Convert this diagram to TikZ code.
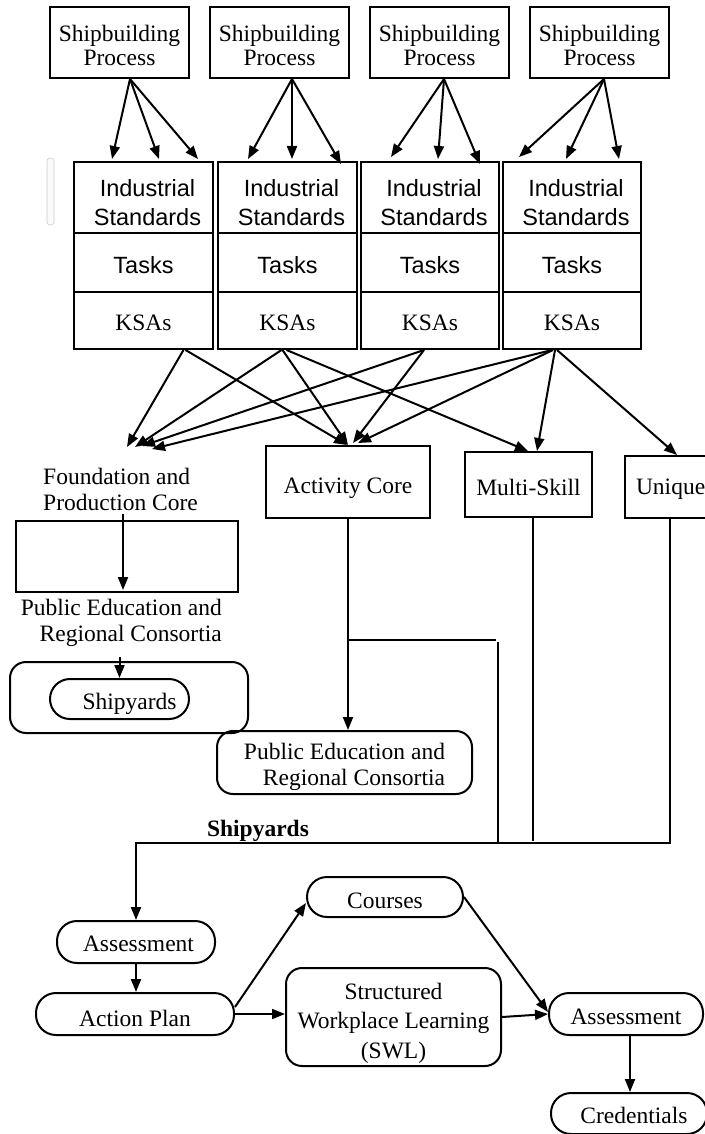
\documentclass[tikz,border=0pt]{standalone}
\usepackage{fontspec}
\setmainfont{Liberation Serif}
\newfontfamily\sansf{Liberation Sans}
\usetikzlibrary{arrows.meta,calc}
\newcommand{\lowr}[2]{\raisebox{-#1pt}[\height][\depth]{#2}}
\begin{document}
\begin{tikzpicture}[x=1pt,y=-1pt,
  every node/.style={font=\fontsize{23.5}{24}\selectfont, inner sep=0pt},
  bx/.style={draw, line width=2pt, align=center},
  rbx/.style={bx, rounded corners=16pt},
  pill/.style={bx, rounded corners=20pt},
  sanstxt/.style={align=center, font=\sansf\fontsize{23.5}{29}\selectfont},
  arr/.style={line width=2pt, -{Triangle[length=13pt,width=10pt]}},
  ln/.style={line width=2pt}]
\useasboundingbox (0,0) rectangle (704,1134);

% faint artefact
\node[draw=gray!40, fill=gray!4, line width=0.6pt, rounded corners=3pt, minimum width=7pt, minimum height=67pt] (ghost) at (50.5,191.5) {};

% top boxes
\foreach \i/\cx in {1/119.5, 2/279.5, 3/439.5, 4/599.5}{
  \node[bx, minimum width=139pt, minimum height=71pt,
        label={[align=center, yshift=-3pt]center:{Shipbuilding\\Process}}] (sp\i) at (\cx,42.5) {};
}

% columns
\foreach \i/\cx/\w in {1/143.5/139, 2/287.5/139, 3/430/138, 4/572/138}{
  \node[bx, minimum width=\w pt, minimum height=71pt,
        label={[sanstxt, xshift=4pt, yshift=-5pt]center:{Industrial\\Standards}}] (is\i) at (\cx,197.5) {};
  \node[bx, font=\sansf\fontsize{23.5}{29}\selectfont, minimum width=\w pt, minimum height=59pt] (tk\i) at (\cx,262.5) {\lowr{3}{Tasks}};
  \node[bx, minimum width=\w pt, minimum height=57pt] (ks\i) at (\cx,320.5) {\lowr{2}{KSAs}};
}

% top arrows
\draw[arr] ([xshift=10.5pt]sp1.south) -- ([xshift=-31.5pt,yshift=2pt]is1.north);
\draw[arr] ([xshift=10.5pt]sp1.south) -- ([xshift=15.5pt,yshift=2pt]is1.north);
\draw[arr] ([xshift=10.5pt]sp1.south) -- ([xshift=54.5pt,yshift=2pt]is1.north);
\draw[arr] ([xshift=12.5pt]sp2.south) -- ([xshift=-39.5pt,yshift=2pt]is2.north);
\draw[arr] ([xshift=12.5pt]sp2.south) -- ([xshift=4.5pt,yshift=2pt]is2.north);
\draw[arr] ([xshift=12.5pt]sp2.south) -- ([xshift=53.5pt,yshift=-3pt]is2.north);
\draw[arr] ([xshift=4.5pt]sp3.south) -- ([xshift=-39pt,yshift=4pt]is3.north);
\draw[arr] ([xshift=4.5pt]sp3.south) -- ([xshift=8pt,yshift=2pt]is3.north);
\draw[arr] ([xshift=4.5pt]sp3.south) -- ([xshift=50pt,yshift=-3pt]is3.north);
\draw[arr] ([xshift=4.5pt]sp4.south) -- ([xshift=-53pt,yshift=4pt]is4.north);
\draw[arr] ([xshift=4.5pt]sp4.south) -- ([xshift=-6pt,yshift=2pt]is4.north);
\draw[arr] ([xshift=4.5pt]sp4.south) -- ([xshift=47pt,yshift=2pt]is4.north);

% third layer
\node[anchor=west, align=left, font=\fontsize{23.5}{26}\selectfont] (found) at (43,489) {Foundation and\\Production Core};
\coordinate (fd) at (140,447);
\node[bx, minimum width=164pt, minimum height=72pt] (ac) at (348,482) {\lowr{6}{Activity Core}};
\node[bx, minimum width=127pt, minimum height=65pt] (ms) at (528.5,484.5) {\lowr{3}{Multi-Skill}};
\node[bx, anchor=north west, minimum height=62pt, text width=98pt, align=left, inner xsep=11pt] (uq) at (624,455) {\lowr{2}{Unique}};

% KSA arrows
\draw[arr] ([xshift=40pt]ks1.south) -- ([xshift=-13pt]fd);
\draw[arr] ([xshift=42pt]ks1.south) -- ([xshift=-1pt]ac.north);
\draw[arr] ([xshift=-6pt]ks2.south) -- ([xshift=-5pt]fd);
\draw[arr] ([xshift=-5pt]ks2.south) -- (ac.north);
\draw[arr] ([xshift=-1pt]ks2.south) -- ([xshift=-0.5pt]ms.north);
\draw[arr] ([xshift=-6pt]ks3.south) -- ([xshift=2pt,yshift=1pt]fd);
\draw[arr] ([xshift=-6pt]ks3.south) -- ([xshift=5pt,yshift=2pt]ac.north);
\draw[arr] ([xshift=-20pt]ks4.south) -- ([xshift=12pt,yshift=-2pt]fd);
\draw[arr] ([xshift=-19pt]ks4.south) -- ([xshift=10pt,yshift=2pt]ac.north);
\draw[arr] ([xshift=-17pt]ks4.south) -- ([xshift=8.5pt]ms.north);
\draw[arr] ([xshift=-15pt]ks4.south) -- ([xshift=53pt]uq.north west);

% left column
\node[bx, minimum width=222pt, minimum height=71pt] (frect) at (127,556.5) {};
\draw[arr] ($(frect.south |- found.south)+(-4,4)$) -- ($(frect.south)+(-4,-3)$);
\node[anchor=east, align=right, font=\fontsize{23.5}{26}\selectfont] (pe1) at (222,623) {Public Education and\\Regional Consortia};
\node[rbx, minimum width=238pt, minimum height=71pt] (outer) at (129,697.5) {};
\node[pill, minimum width=139pt, minimum height=40pt] (sy1) at (119.5,699) {\lowr{5}{\hspace*{20pt}Shipyards}};
\draw[arr] ($(sy1.north |- pe1.south)+(0,10)$) -- (sy1.north);

% activity core branch
\node[rbx, minimum width=255pt, minimum height=63pt,
      label={[align=right, font=\fontsize{23.5}{26}\selectfont, yshift=-4pt]center:{Public Education and\\Regional Consortia}}] (pe2) at (344.5,762.5) {};
\draw[arr] (ac.south) -- (ac.south |- pe2.north);
\coordinate (j1) at (348,640);
\coordinate (j2) at (498,642);
\coordinate (j3) at (498,843);
\draw[ln] (j1) -- ++(148,0);
\draw[ln] (j2) -- (j3);
\draw[ln] ([xshift=4.5pt]ms.south) -- ++(0,323);

% shipyards bus
\node[font=\bfseries\fontsize{23.5}{24}\selectfont] (sylab) at (258,831) {Shipyards};
\node[pill, minimum width=158pt, minimum height=42pt] (a1) at (136,942) {\lowr{2}{\hspace*{5pt}Assessment}};
\coordinate (bus) at (670,843);
\draw[arr] ([xshift=46pt]uq.south west) -- (bus) -| (a1.north);

% bottom flow
\node[pill, minimum width=198pt, minimum height=42pt] (ap) at (135,1014) {\lowr{4}{Action Plan}};
\node[pill, minimum width=156pt, minimum height=40pt] (co) at (385,897) {\lowr{4}{Courses}};
\node[rbx, minimum width=215pt, minimum height=98pt,
      label={[align=center, font=\fontsize{23.5}{29.5}\selectfont, yshift=-6pt]center:{Structured\\Workplace Learning\\(SWL)}}] (swl) at (393.5,1017) {};
\node[pill, minimum width=154pt, minimum height=42pt] (a2) at (626,1014) {\lowr{3}{Assessment}};
\node[pill, minimum width=156pt, minimum height=41pt] (cr) at (629,1113.5) {\lowr{2}{\hspace*{10pt}Credentials}};

\draw[arr] (a1.south) -- (a1.south |- ap.north);
\draw[arr] ([yshift=7pt]ap.east) -- ([yshift=-6pt]co.west);
\draw[arr] (ap.east) -- (ap.east -| swl.west);
\draw[arr] (swl.east) -- (a2.west);
\draw[arr] (co.east) -- ([yshift=2pt]a2.west);
\draw[arr] ($(a2.south)+(4,0)$) -- ($(a2.south |- cr.north)+(4,0)$);
\end{tikzpicture}
\end{document}
